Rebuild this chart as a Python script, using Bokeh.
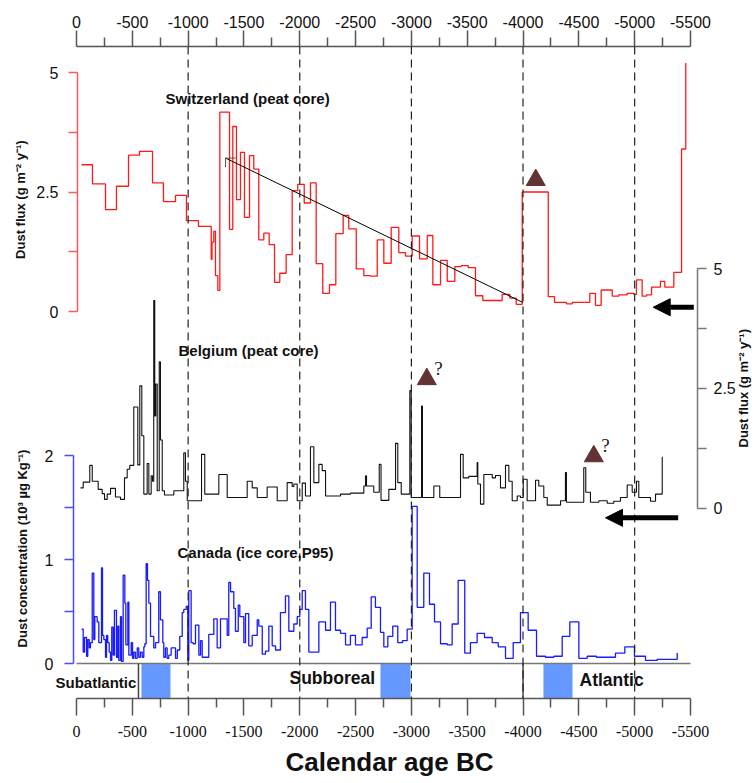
import math
from bokeh.plotting import figure
from bokeh.models import (Range1d, LinearAxis, FixedTicker, Label, Span, Arrow,
                          NormalHead, Title)
from bokeh.core.properties import value
from bokeh.embed import file_html
from bokeh.resources import INLINE

# ---------------- data (ages in years BC, plotted as negative years) -------------
swiss_age = [45, 143, 260, 358, 466, 564, 681, 779, 887, 985, 1093, 1207, 1214, 1230,
             1245, 1266, 1284, 1371, 1400, 1433, 1469, 1505, 1550, 1588, 1633, 1678,
             1726, 1774, 1821, 1878, 1932, 1982, 2040, 2096, 2147, 2206, 2266, 2323,
             2389, 2439, 2506, 2574, 2634, 2694, 2753, 2819, 2887, 2947, 3007, 3073,
             3142, 3192, 3261, 3321, 3389, 3446, 3509, 3574, 3640, 3813, 3882, 3939,
             3993, 4226, 4282, 4389, 4441, 4598, 4649, 4700, 4799, 4858, 4933, 4992,
             5016, 5067, 5106, 5151, 5231, 5270, 5351, 5420, 5458]
swiss_flux = [3.07, 2.67, 2.13, 2.62, 3.27, 3.35, 2.69, 2.30, 2.43, 1.90, 1.78, 1.09,
              1.45, 1.68, 0.75, 0.44, 4.17, 1.72, 3.87, 2.34, 3.33, 1.97, 3.26, 2.98,
              1.50, 1.64, 1.40, 0.61, 0.80, 1.19, 2.53, 2.66, 2.27, 2.69, 1.00, 0.38,
              0.56, 1.63, 2.01, 1.73, 0.89, 0.75, 0.74, 1.50, 1.01, 1.76, 1.23, 1.16,
              1.58, 1.10, 1.59, 0.56, 1.07, 0.63, 0.94, 0.96, 0.92, 0.33, 0.23, 0.36,
              0.28, 0.15, 2.50, 0.31, 0.19, 0.16, 0.19, 0.38, 0.13, 0.45, 0.32, 0.35,
              0.38, 0.36, 0.66, 0.32, 0.35, 0.51, 0.63, 0.51, 0.82, 3.40, 5.20]

belg_age = [36, 60, 119, 141, 194, 230, 251, 275, 305, 349, 394, 430, 454, 477, 513,
            549, 567, 585, 603, 633, 648, 669, 681, 692, 701, 710, 723, 741, 752, 768,
            788, 872, 961, 976, 992, 1120, 1149, 1275, 1350, 1529, 1574, 1619, 1708,
            1798, 1887, 1932, 1947, 1977, 2022, 2051, 2096, 2126, 2171, 2201, 2231,
            2365, 2454, 2574, 2589, 2598, 2663, 2712, 2728, 2798, 2858, 2878, 2909,
            2986, 2998, 3091, 3099, 3201, 3254, 3440, 3464, 3514, 3589, 3595, 3619,
            3649, 3724, 3753, 3798, 3843, 3873, 3903, 3948, 3977, 4002, 4037, 4112,
            4141, 4186, 4217, 4336, 4380, 4389, 4544, 4562, 4604, 4679, 4754, 4813,
            4873, 4933, 4978, 5016, 5037, 5142, 5187, 5247]
belg_flux = [0.42, 0.54, 0.89, 0.56, 0.39, 0.30, 0.18, 0.29, 0.41, 0.23, 0.18, 0.63,
             0.81, 0.89, 2.11, 0.90, 2.55, 1.51, 0.29, 0.93, 0.29, 0.67, 0.56, 4.33,
             1.92, 2.59, 0.36, 3.05, 1.42, 0.36, 0.27, 0.36, 1.15, 0.56, 0.15, 1.12,
             0.29, 0.70, 0.22, 0.56, 0.42, 0.22, 0.44, 0.15, 0.53, 0.45, 0.50, 0.15,
             0.52, 0.25, 1.28, 0.53, 0.91, 0.78, 0.25, 0.29, 0.31, 0.46, 0.67, 0.46,
             0.33, 0.91, 0.16, 0.39, 1.35, 0.53, 0.29, 2.45, 0.22, 2.13, 0.22, 0.46,
             0.22, 1.12, 0.63, 0.66, 0.95, 0.50, 0.08, 0.70, 0.63, 0.68, 0.42, 0.89,
             0.56, 0.15, 0.25, 0.22, 0.60, 0.15, 0.58, 0.46, 0.22, 0.06, 0.15, 0.74,
             0.12, 0.84, 0.33, 0.12, 0.15, 0.10, 0.14, 0.22, 0.48, 0.33, 0.56, 0.22,
             0.14, 0.29, 1.07]

can_age = [45, 60, 72, 90, 101, 114, 125, 141, 155, 164, 185, 200, 224, 233, 245, 260,
           269, 280, 293, 305, 316, 329, 340, 358, 370, 379, 394, 403, 418, 433, 442,
           460, 469, 490, 502, 513, 528, 544, 558, 573, 589, 603, 612, 624, 636, 648,
           663, 692, 708, 737, 752, 773, 782, 797, 812, 827, 848, 887, 903, 925, 947,
           961, 983, 997, 1006, 1027, 1045, 1066, 1096, 1111, 1126, 1185, 1230, 1260,
           1290, 1350, 1364, 1380, 1409, 1424, 1449, 1463, 1499, 1514, 1543, 1574,
           1619, 1633, 1664, 1693, 1723, 1753, 1783, 1827, 1872, 1902, 1947, 1977,
           2000, 2022, 2051, 2081, 2171, 2231, 2275, 2320, 2365, 2410, 2454, 2499,
           2559, 2604, 2640, 2678, 2723, 2753, 2789, 2833, 2878, 2920, 2962, 3007,
           3052, 3111, 3162, 3207, 3261, 3321, 3365, 3419, 3478, 3529, 3589, 3655,
           3724, 3778, 3843, 3912, 3977, 4046, 4121, 4201, 4276, 4351, 4419, 4500,
           4575, 4658, 4739, 4828, 4912, 4998, 5097, 5202, 5292, 5381]
can_conc = [0.33, 0.11, 0.25, 0.07, 0.23, 0.15, 0.20, 0.87, 0.23, 0.45, 0.40, 0.20,
            0.92, 0.27, 0.23, 0.06, 0.27, 0.20, 0.11, 0.03, 0.35, 0.08, 0.51, 0.06,
            0.36, 0.03, 0.45, 0.02, 0.85, 0.58, 0.18, 0.59, 0.08, 0.20, 0.05, 0.11,
            0.05, 0.15, 0.06, 0.11, 0.06, 0.16, 0.19, 0.96, 0.80, 0.58, 0.26, 0.15,
            0.20, 0.69, 0.42, 0.20, 0.06, 0.15, 0.05, 0.08, 0.15, 0.05, 0.13, 0.26,
            0.49, 0.52, 0.55, 0.03, 0.70, 0.20, 0.19, 0.37, 0.08, 0.22, 0.06, 0.28,
            0.43, 0.15, 0.43, 0.27, 0.78, 0.69, 0.53, 0.31, 0.56, 0.45, 0.20, 0.48,
            0.17, 0.27, 0.42, 0.36, 0.09, 0.12, 0.36, 0.17, 0.13, 0.49, 0.65, 0.31,
            0.38, 0.45, 0.52, 0.70, 0.52, 0.11, 0.40, 0.32, 0.59, 0.32, 0.29, 0.18,
            0.27, 0.18, 0.25, 0.34, 0.64, 0.54, 0.30, 0.16, 0.26, 0.36, 0.20, 0.22,
            0.33, 1.51, 0.54, 0.87, 0.57, 0.40, 0.19, 0.18, 0.38, 0.80, 0.10, 0.20,
            0.29, 0.25, 0.20, 0.16, 0.05, 0.20, 0.49, 0.32, 0.07, 0.06, 0.07, 0.26,
            0.40, 0.05, 0.07, 0.06, 0.06, 0.10, 0.16, 0.07, 0.03, 0.04, 0.04, 0.10]

# trend line on the Swiss record (age, flux)
trend_age = [1335, 3998]
trend_flux = [3.21, 0.19]

# markers (triangles): Swiss one, and two Belgian "?" ones
tri_swiss_age, tri_swiss_val = [4114], [2.75]
tri_belg_age, tri_belg_val = [3138, 4634], [2.69, 1.08]
qmark_age, qmark_val = [3243, 4739], [2.91, 1.30]

# arrows (age from, age to, value)
arrow_swiss = (5530, 5166, 0.09)
arrow_belg = (5390, 4739, -0.205)

# climatic periods
period_names = ["Subatlantic", "Subboreal", "Atlantic"]
period_label_age = [-188, 1908, 4506]
period_bounds = [555, 4000]
blue_boxes = [(582, 842), (2723, 2992), (4183, 4443)]

dash_years = [1000, 2000, 3000, 4000, 5000]
x_major = [0, -500, -1000, -1500, -2000, -2500, -3000, -3500, -4000, -4500, -5000, -5500]
x_minor = [-250, -750, -1250, -1750, -2250, -2750, -3250, -3750, -4250, -4750, -5250]
x_labels = {t: str(t) for t in x_major}

# ---------------- figure -------------
FONT = "Liberation Sans"
CAN_LO, CAN_HI = -0.3365, 5.933
p = figure(width=755, height=783, x_range=Range1d(680.8, -6082.5),
           y_range=Range1d(CAN_LO, CAN_HI), output_backend="svg",
           toolbar_location=None, x_axis_location="below", y_axis_location=None,
           min_border_left=0, min_border_right=0, min_border_top=46,
           min_border_bottom=85)
p.extra_y_ranges = {"swiss": Range1d(-8.096, 5.544),
                    "belgium": Range1d(-3.977, 9.635)}
p.grid.visible = False
p.outline_line_color = None
p.background_fill_color = "white"
p.border_fill_color = "white"


def style_x(ax, font, size):
    ax.ticker = FixedTicker(ticks=x_major, minor_ticks=x_minor)
    ax.major_label_overrides = x_labels
    ax.bounds = (-5500, 0)
    ax.axis_line_color = "#555555"
    ax.axis_line_width = 1.5
    ax.major_tick_line_color = "#555555"
    ax.minor_tick_line_color = "#555555"
    ax.major_tick_line_width = 1.5
    ax.minor_tick_line_width = 1.5
    ax.major_tick_in = 0
    ax.minor_tick_in = 0
    ax.major_tick_out = 17
    ax.minor_tick_out = 9
    ax.major_label_text_font = font
    ax.major_label_text_font_size = size
    ax.major_label_text_color = "#111111"


# bottom axis
xb = p.xaxis[0]
style_x(xb, "Liberation Sans Narrow", "16px")
xb.major_label_standoff = 10
p.add_layout(Title(text="Calendar age BC", align="left", offset=285,
                   text_font=FONT, text_font_style="bold", text_font_size="26px",
                   text_color="#111111", standoff=10), "below")

# top axis
xt = LinearAxis()
style_x(xt, FONT, "16px")
xt.major_tick_out = 16
xt.major_label_standoff = 3
p.add_layout(xt, "above")


def style_y(ax, color, ticks, minor, overrides, standoff):
    ax.ticker = FixedTicker(ticks=ticks, minor_ticks=minor)
    ax.bounds = (ticks[0], ticks[-1])
    ax.axis_line_color = color
    ax.axis_line_width = 1.5
    ax.major_tick_line_color = color
    ax.minor_tick_line_color = color
    ax.major_tick_line_width = 1.5
    ax.minor_tick_line_width = 1.5
    ax.major_tick_in = 0
    ax.minor_tick_in = 0
    ax.major_tick_out = 9
    ax.minor_tick_out = 9
    ax.major_label_text_font = FONT
    ax.major_label_text_font_size = "16px"
    ax.major_label_text_color = "#111111"
    ax.major_label_standoff = standoff
    if overrides:
        ax.major_label_overrides = overrides


# Switzerland axis (left, red)
ax_sw = LinearAxis(y_range_name="swiss", fixed_location=-9)
style_y(ax_sw, "#ff5a5a", [0, 2.5, 5], [1.25, 3.75], {0: "0", 2.5: "2.5", 5: "5"}, 10)
p.add_layout(ax_sw, "left")

# Canada axis (left, blue, slightly offset)
ax_ca = LinearAxis(fixed_location=27)
style_y(ax_ca, "#4a4aff", [0, 1, 2], [0.5, 1.5], None, 11)
p.add_layout(ax_ca, "left")

# Belgium axis (right, grey)
ax_be = LinearAxis(y_range_name="belgium", fixed_location=-5563)
style_y(ax_be, "#777777", [0, 2.5, 5], [1.25, 3.75], {0: "0", 2.5: "2.5", 5: "5"}, 7)
p.add_layout(ax_be, "right")

# ---------------- period band -------------
for a0, a1 in blue_boxes:
    p.quad(left=-a0, right=-a1, bottom=CAN_LO, top=0, fill_color="#6699ff",
           line_color=None)
p.segment(x0=0, x1=-5500, y0=0, y1=0, line_color="#777777", line_width=1.5)
for b in period_bounds:
    p.segment(x0=-b, x1=-b, y0=0, y1=CAN_LO, line_color="#444444", line_width=1.5)

# dashed millennium lines
for d in dash_years:
    p.add_layout(Span(location=-d, dimension="height", line_color="#222222",
                      line_width=1.2, line_dash="8 5"))

# ---------------- series -------------
p.step([-a for a in swiss_age], swiss_flux, mode="after", line_color="#ff1a1a",
       line_width=1.3, y_range_name="swiss")
p.step([-a for a in belg_age], belg_flux, mode="after", line_color="#111111",
       line_width=1.1, y_range_name="belgium")
p.step([-a for a in can_age], can_conc, mode="after", line_color="#1a1aff",
       line_width=1.3)

# trend line + its small tick
p.line([-a for a in trend_age], trend_flux, line_color="black", line_width=1,
       y_range_name="swiss")
p.segment(x0=-trend_age[0], x1=-trend_age[0], y0=trend_flux[0], y1=trend_flux[0] - 0.19,
          line_color="#555555", y_range_name="swiss")
p.segment(x0=-trend_age[0], x1=-trend_age[0] - 90, y0=trend_flux[0], y1=trend_flux[0],
          line_color="#555555", y_range_name="swiss")

# triangles
TRI = "#633232"
p.scatter([-a for a in tri_swiss_age], tri_swiss_val, marker="triangle", size=19,
          fill_color=TRI, line_color=TRI, y_range_name="swiss")
p.scatter([-a for a in tri_belg_age], tri_belg_val, marker="triangle", size=19,
          fill_color=TRI, line_color=TRI, y_range_name="belgium")
p.text([-a for a in qmark_age], qmark_val, text=["?", "?"], text_align="center",
       text_baseline="middle", text_font=value("Liberation Serif"),
       text_font_size="19px", text_color="#222222", y_range_name="belgium")

# arrows
for (a0, a1, v), rng in ((arrow_swiss, "swiss"), (arrow_belg, "belgium")):
    p.add_layout(Arrow(end=NormalHead(size=17, fill_color="black", line_color="black"),
                       x_start=-a0, y_start=v, x_end=-a1, y_end=v, line_width=5,
                       line_color="black", y_range_name=rng))


# ---------------- text labels -------------
def lab(x, y, text, size, rng="default", bold=True, angle=0, align="left"):
    p.add_layout(Label(x=x, y=y, text=text, y_range_name=rng, text_font=FONT,
                       text_font_size=size,
                       text_font_style="bold" if bold else "normal",
                       text_color="#111111", text_align=align,
                       text_baseline="middle", angle=angle))


lab(-797, 4.46, "Switzerland (peat core)", "15px", "swiss")
lab(-914, 3.29, "Belgium (peat core)", "15px", "belgium")
lab(-905, 1.07, "Canada (ice core,P95)", "15px")
lab(-period_label_age[0], -0.18, period_names[0], "15px")
lab(-period_label_age[1], -0.144, period_names[1], "17.5px")
lab(-period_label_age[2], -0.163, period_names[2], "17.5px")

lab(502, 2.34, "Dust flux (g m\u207b\u00b2 y\u207b\u00b9)", "13px", "swiss",
    angle=math.pi / 2, align="center")
lab(484, 1.106, "Dust concentration (10\u00b3 \u00b5g Kg\u207b\u00b9)", "13px",
    angle=math.pi / 2, align="center")
lab(-5975, 2.5, "Dust flux (g m\u207b\u00b2 y\u207b\u00b9)", "13px", "belgium",
    angle=math.pi / 2, align="center")

open("out.html", "w").write(file_html(p, INLINE))
